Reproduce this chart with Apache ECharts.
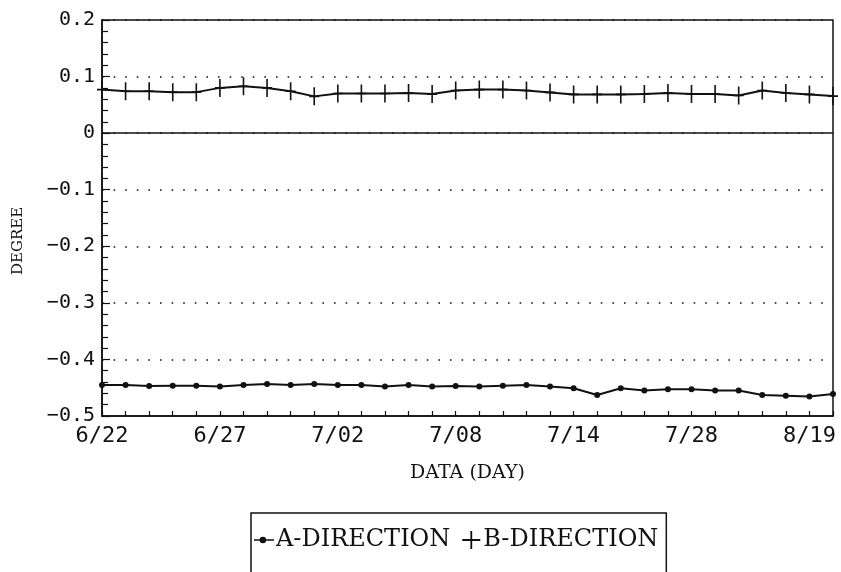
<!DOCTYPE html>
<html>
<head>
<meta charset="utf-8">
<script src="https://cdn.jsdelivr.net/npm/echarts@6/dist/echarts.min.js"></script>
<style>
  html, body { margin: 0; padding: 0; background: #fff; }
  #chart { width: 841px; height: 572px; }
</style>
</head>
<body>
<div id="chart"></div>
<script>
// ---- data ----
const categories = ['6/22','','','','','6/27','','','','','7/02','','','','','7/08','','','','','7/14','','','','','7/28','','','','','8/19',''];
const seriesA = [-0.445,-0.445,-0.447,-0.4465,-0.4465,-0.448,-0.445,-0.4435,-0.445,-0.4435,-0.445,-0.445,-0.448,-0.445,-0.448,-0.447,
                 -0.448,-0.4465,-0.445,-0.448,-0.451,-0.463,-0.451,-0.455,-0.4525,-0.4525,-0.455,-0.455,-0.463,-0.464,-0.4655,-0.461];
const seriesB = [0.077,0.074,0.074,0.0725,0.0725,0.080,0.083,0.080,0.074,0.065,0.070,0.070,0.070,0.071,0.069,0.0755,
                 0.077,0.077,0.0755,0.072,0.0685,0.0685,0.0685,0.069,0.071,0.069,0.069,0.0665,0.0755,0.071,0.0685,0.0655];
const yTickValues = [-0.5,-0.4,-0.3,-0.2,-0.1,0,0.1,0.2];
const yTickLabels = ['\u22120.5','\u22120.4','\u22120.3','\u22120.2','\u22120.1','0','0.1','0.2'];
const nameA = 'A-DIRECTION';
const nameB = 'B-DIRECTION';
const xName = 'DATA (DAY)';
const yName = 'DEGREE';

const plusPath = 'path://M4.2,0 L5.8,0 L5.8,8.2 L10,8.2 L10,9.8 L5.8,9.8 L5.8,18 L4.2,18 L4.2,9.8 L0,9.8 L0,8.2 L4.2,8.2 Z';
const plusLegend = 'path://M7.2,0 L8.8,0 L8.8,7.2 L16,7.2 L16,8.8 L8.8,8.8 L8.8,16 L7.2,16 L7.2,8.8 L0,8.8 L0,7.2 L7.2,7.2 Z';
const dotLineLegend = 'path://M0,3.3 L18,3.3 L18,4.7 L0,4.7 Z M5,4 A3,3 0 1,1 11,4 A3,3 0 1,1 5,4 Z';

const chart = echarts.init(document.getElementById('chart'), null, { renderer: 'canvas' });
const ink = '#111';
chart.setOption({
  backgroundColor: '#fff',
  animation: false,
  grid: { left: 102, right: 8, top: 20, bottom: 156, show: true, borderColor: ink, borderWidth: 1.5, backgroundColor: 'transparent' },
  xAxis: {
    type: 'category',
    data: categories,
    boundaryGap: false,
    name: xName,
    nameLocation: 'middle',
    nameGap: 48,
    nameTextStyle: { fontFamily: 'DejaVu Serif', fontSize: 19, color: ink },
    axisLine: { onZero: false, lineStyle: { color: ink, width: 1.5 } },
    axisTick: { show: true, inside: true, length: 5, interval: 0, lineStyle: { color: ink, width: 1.2 } },
    axisLabel: { interval: 0, margin: 9, fontFamily: 'DejaVu Sans Mono', fontSize: 22, color: ink },
    splitLine: { show: false }
  },
  yAxis: {
    type: 'value',
    min: -0.5, max: 0.2, interval: 0.1,
    name: yName,
    nameLocation: 'middle',
    nameRotate: 90,
    nameGap: 76,
    nameTextStyle: { fontFamily: 'DejaVu Serif', fontSize: 15, color: ink, padding: [0, 46, 0, 0] },
    axisLine: { show: true, lineStyle: { color: ink, width: 1.5 } },
    axisTick: { show: true, inside: true, length: 8, lineStyle: { color: ink, width: 1.2 } },
    minorTick: { show: true, splitNumber: 5, length: 6, lineStyle: { color: ink, width: 1.2 } },
    axisLabel: {
      margin: 7, fontFamily: 'DejaVu Sans Mono', fontSize: 20, color: ink,
      formatter: function (v) {
        const i = yTickValues.findIndex(t => Math.abs(t - v) < 1e-9);
        return i >= 0 ? yTickLabels[i] : '';
      }
    },
    splitLine: { show: true, lineStyle: { color: ink, width: 1.6, type: [1.6, 10] } }
  },
  legend: {
    left: 251, top: 513,
    padding: [15, 8, 40, 3],
    itemGap: 12,
    itemWidth: 20, itemHeight: 18,
    borderColor: ink, borderWidth: 1.5,
    textStyle: { fontFamily: 'DejaVu Serif', fontSize: 24, color: ink, padding: [0, 0, 0, -3] },
    data: [ { name: nameA, icon: dotLineLegend }, { name: nameB, icon: plusLegend } ]
  },
  series: [
    {
      name: nameA, type: 'line', data: seriesA,
      symbol: 'circle', symbolSize: 6, showAllSymbol: true,
      lineStyle: { color: ink, width: 2 }, itemStyle: { color: ink }
    },
    {
      name: nameB, type: 'line', data: seriesB,
      symbol: plusPath, symbolSize: [10, 18], showAllSymbol: true,
      lineStyle: { color: ink, width: 2 }, itemStyle: { color: ink },
      markLine: {
        silent: true, symbol: 'none', label: { show: false },
        lineStyle: { color: ink, width: 1.5, type: 'solid' },
        data: [ { yAxis: 0 } ]
      }
    }
  ]
});
</script>
</body>
</html>
